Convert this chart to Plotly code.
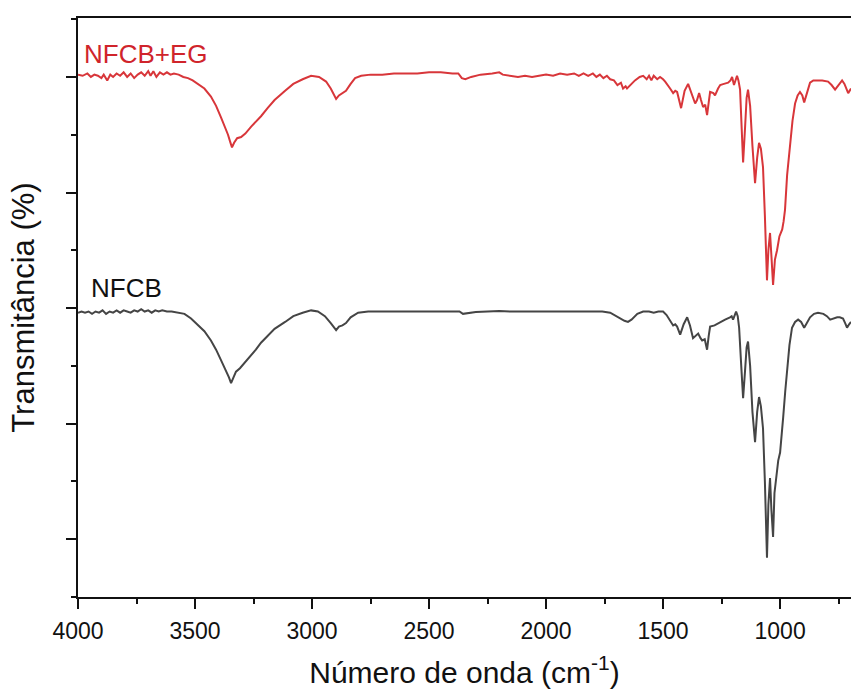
import plotly.graph_objects as go

# ---------------- data ----------------
wn_eg = [4000, 3980, 3960, 3945, 3930, 3915, 3900, 3890, 3875, 3862, 3850, 3835, 3820, 3805, 3790,
         3775, 3760, 3745, 3730, 3715, 3700, 3690, 3678, 3665, 3650, 3635, 3620, 3605, 3590, 3570,
         3550, 3530, 3510, 3487, 3460, 3432, 3410, 3389, 3370, 3359, 3350, 3342, 3333, 3320, 3303,
         3285, 3260, 3240, 3218, 3190, 3160, 3115, 3080, 3040, 3004, 2970, 2940, 2920, 2905, 2897,
         2885, 2870, 2855, 2835, 2816, 2790, 2750, 2700, 2650, 2600, 2550, 2500, 2450, 2400, 2375,
         2360, 2345, 2320, 2280, 2230, 2200, 2185, 2150, 2120, 2090, 2060, 2030, 2000, 1970, 1940,
         1910, 1880, 1860, 1840, 1820, 1800, 1785, 1770, 1755, 1740, 1726, 1710, 1695, 1680, 1671,
         1660, 1654, 1641, 1620, 1600, 1585, 1570, 1560, 1550, 1540, 1525, 1513, 1500, 1491, 1470,
         1457, 1448, 1440, 1423, 1408, 1393, 1378, 1363, 1355, 1346, 1338, 1329, 1320, 1312, 1305,
         1299, 1285, 1278, 1265, 1256, 1240, 1222, 1212, 1205, 1197, 1190, 1184, 1178, 1171, 1164,
         1158, 1150, 1143, 1137, 1128, 1118, 1107, 1098, 1090, 1082, 1073, 1065, 1056, 1050, 1043,
         1037, 1030, 1022, 1013, 1003, 991, 985, 979, 970, 963, 957, 947, 936, 925, 915,
         905, 897, 888, 872, 858, 842, 820, 795, 780, 765, 750, 735, 725, 709, 697]
t_eg = [4.02, 4.01, 4.03, 4.00, 4.02, 4.01, 3.99, 4.02, 3.97, 4.02, 4.00, 4.03, 4.01, 4.04, 4.00,
        4.03, 3.99, 4.02, 4.04, 4.01, 4.05, 4.01, 4.05, 4.00, 4.04, 4.02, 4.04, 4.02, 4.03, 4.02,
        4.00, 3.99, 3.97, 3.94, 3.90, 3.83, 3.75, 3.65, 3.56, 3.50, 3.44, 3.39, 3.43, 3.47, 3.48,
        3.51, 3.57, 3.61, 3.66, 3.73, 3.80, 3.88, 3.94, 3.98, 4.01, 4.00, 3.96, 3.90, 3.84, 3.81,
        3.84, 3.86, 3.88, 3.94, 3.99, 4.01, 4.02, 4.02, 4.03, 4.03, 4.03, 4.04, 4.04, 4.03, 4.03,
        3.99, 3.98, 4.00, 4.02, 4.03, 4.04, 4.02, 4.01, 4.00, 4.01, 4.00, 4.01, 4.02, 4.01, 4.03,
        4.02, 4.03, 4.01, 4.03, 4.01, 4.03, 4.00, 4.02, 3.99, 4.01, 3.98, 3.97, 3.93, 3.95, 3.90,
        3.92, 3.90, 3.93, 3.97, 4.00, 4.01, 3.98, 4.01, 3.97, 4.01, 3.98, 4.00, 3.98, 3.96, 3.90,
        3.86, 3.88, 3.87, 3.73, 3.88, 3.94, 3.85, 3.77, 3.80, 3.86, 3.80, 3.74, 3.76, 3.67, 3.78,
        3.87, 3.86, 3.84, 3.90, 3.93, 3.94, 3.95, 3.97, 4.00, 3.93, 3.97, 4.01, 3.97, 3.89, 3.55,
        3.26, 3.55, 3.82, 3.89, 3.75, 3.40, 3.08, 3.30, 3.43, 3.38, 3.22, 2.80, 2.24, 2.50, 2.65,
        2.45, 2.20, 2.42, 2.50, 2.62, 2.68, 2.75, 2.85, 3.15, 3.30, 3.43, 3.62, 3.77, 3.84, 3.87,
        3.84, 3.78, 3.85, 3.95, 3.97, 3.97, 3.97, 3.96, 3.93, 3.89, 3.93, 3.97, 3.94, 3.86, 3.90]

wn_nf = [4000, 3985, 3970, 3955, 3940, 3925, 3910, 3895, 3880, 3865, 3850, 3835, 3820, 3805, 3790,
         3775, 3760, 3745, 3730, 3715, 3700, 3685, 3670, 3655, 3640, 3620, 3600, 3570, 3545, 3517,
         3490, 3460, 3432, 3410, 3389, 3370, 3355, 3346, 3337, 3325, 3308, 3290, 3260, 3240, 3218,
         3190, 3160, 3115, 3080, 3040, 3004, 2975, 2945, 2920, 2905, 2897, 2885, 2870, 2855, 2835,
         2803, 2760, 2700, 2650, 2600, 2550, 2500, 2450, 2400, 2370, 2355, 2340, 2300, 2250, 2200,
         2150, 2100, 2050, 2000, 1950, 1900, 1850, 1800, 1760, 1726, 1700, 1680, 1665, 1650, 1635,
         1610, 1585, 1560, 1540, 1520, 1500, 1485, 1470, 1457, 1448, 1440, 1427, 1412, 1397, 1385,
         1372, 1360, 1350, 1340, 1333, 1322, 1312, 1305, 1299, 1280, 1256, 1235, 1214, 1207, 1201,
         1194, 1188, 1181, 1175, 1166, 1158, 1150, 1143, 1137, 1128, 1118, 1107, 1098, 1090, 1082,
         1073, 1065, 1056, 1050, 1043, 1037, 1030, 1024, 1017, 1008, 1000, 993, 987, 978, 970,
         960, 949, 936, 923, 910, 897, 885, 872, 855, 838, 815, 800, 786, 770, 756,
         745, 731, 722, 714, 705, 697]
t_nf = [1.96, 1.97, 1.96, 1.97, 1.95, 1.97, 1.96, 1.98, 1.95, 1.97, 1.96, 1.98, 1.96, 1.98, 1.97,
        1.96, 1.98, 1.97, 1.99, 1.97, 1.98, 1.96, 1.98, 1.97, 1.98, 1.97, 1.97, 1.96, 1.95, 1.91,
        1.86, 1.80, 1.72, 1.64, 1.55, 1.47, 1.40, 1.35, 1.40, 1.45, 1.48, 1.52, 1.59, 1.64, 1.70,
        1.76, 1.82, 1.88, 1.93, 1.96, 1.98, 1.97, 1.93, 1.87, 1.83, 1.81, 1.84, 1.85, 1.87, 1.92,
        1.96, 1.97, 1.97, 1.97, 1.97, 1.97, 1.97, 1.97, 1.97, 1.97, 1.95, 1.955, 1.965, 1.97, 1.975,
        1.97, 1.97, 1.97, 1.97, 1.97, 1.97, 1.97, 1.97, 1.97, 1.96, 1.93, 1.91, 1.89, 1.88, 1.90,
        1.95, 1.97, 1.97, 1.96, 1.97, 1.97, 1.94, 1.89, 1.85, 1.86, 1.84, 1.77, 1.86, 1.92, 1.85,
        1.74, 1.76, 1.78, 1.74, 1.72, 1.73, 1.64, 1.76, 1.84, 1.85, 1.88, 1.90, 1.92, 1.93, 1.90,
        1.94, 1.97, 1.93, 1.83, 1.50, 1.22, 1.45, 1.66, 1.71, 1.50, 1.10, 0.84, 1.10, 1.23, 1.15,
        0.96, 0.50, -0.16, 0.30, 0.53, 0.25, 0.02, 0.40, 0.55, 0.68, 0.75, 0.88, 1.05, 1.28, 1.48,
        1.68, 1.83, 1.88, 1.90, 1.88, 1.83, 1.88, 1.92, 1.95, 1.96, 1.95, 1.93, 1.90, 1.91, 1.92,
        1.92, 1.91, 1.87, 1.83, 1.86, 1.88]

x_ticks = [4000, 3500, 3000, 2500, 2000, 1500, 1000]
x_range = [4000, 697]
y_range = [-0.5, 4.51]

labels = ["NFCB+EG", "NFCB"]
label_pos = [(3983, 4.20), (3953, 2.17)]

RED = "#d8363a"
RED_TXT = "#d0242b"
GRAY = "#454545"
FONT = "Liberation Sans, Arial, sans-serif"

fig = go.Figure()
fig.add_trace(go.Scatter(x=wn_eg, y=t_eg, mode="lines", line=dict(color=RED, width=2),
                         name=labels[0], showlegend=False))
fig.add_trace(go.Scatter(x=wn_nf, y=t_nf, mode="lines", line=dict(color=GRAY, width=2),
                         name=labels[1], showlegend=False))

fig.add_annotation(x=label_pos[0][0], y=label_pos[0][1], xref="x", yref="y", text=labels[0],
                   showarrow=False, xanchor="left", yanchor="middle",
                   font=dict(family=FONT, size=26, color=RED_TXT))
fig.add_annotation(x=label_pos[1][0], y=label_pos[1][1], xref="x", yref="y", text=labels[1],
                   showarrow=False, xanchor="left", yanchor="middle",
                   font=dict(family=FONT, size=26, color="#111111"))

fig.update_layout(
    width=851, height=689,
    margin=dict(l=78, r=0, t=18, b=92, autoexpand=False),
    paper_bgcolor="white", plot_bgcolor="white",
    font=dict(family=FONT, color="#111111"),
)
fig.update_xaxes(
    range=x_range, tickvals=x_ticks, ticktext=[str(v) for v in x_ticks],
    showgrid=False, zeroline=False, automargin=False,
    showline=True, linecolor="#111111", linewidth=2, mirror=True,
    ticks="outside", ticklen=10, tickwidth=2, tickcolor="#111111",
    ticklabelstandoff=2,
    tickfont=dict(family=FONT, size=23, color="#111111"),
    minor=dict(ticks="outside", ticklen=5, tickwidth=2, dtick=250, tick0=0, tickcolor="#111111", showgrid=False),
    title=dict(text="Número de onda (cm<sup>-1</sup>)", font=dict(family=FONT, size=30, color="#111111"), standoff=20),
)
fig.update_yaxes(
    range=y_range, dtick=1, tick0=0, showticklabels=False,
    showgrid=False, zeroline=False, automargin=False,
    showline=True, linecolor="#111111", linewidth=2, mirror=False,
    ticks="outside", ticklen=10, tickwidth=2, tickcolor="#111111",
    minor=dict(ticks="outside", ticklen=5, tickwidth=2, dtick=0.5, tick0=0, tickcolor="#111111", showgrid=False),
    title=dict(text="Transmitância (%)", font=dict(family=FONT, size=31, color="#111111"), standoff=22),
)

fig.write_html("out.html", config={"displayModeBar": False},
               post_script="document.body.style.margin='0';document.body.style.overflow='hidden';")
